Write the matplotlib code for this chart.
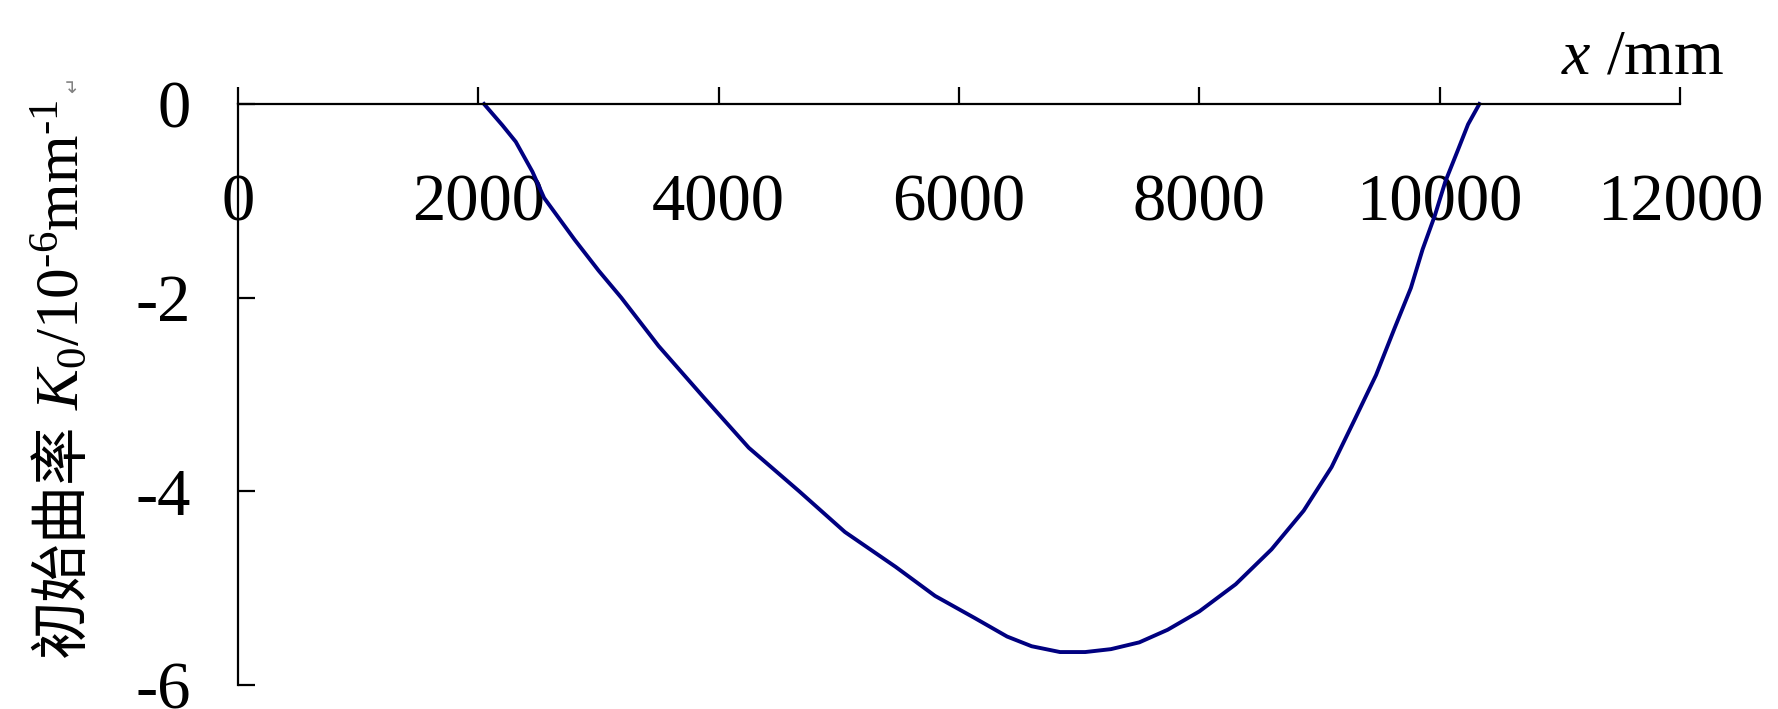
import matplotlib.pyplot as plt

# initial curvature
x_mm = [2047, 2200, 2311, 2450, 2547, 2800, 3000, 3189, 3500, 3868, 4250, 4670,
        5050, 5472, 5800, 6132, 6400, 6604, 6840, 7050, 7264, 7500, 7736, 8000,
        8302, 8600, 8868, 9100, 9292, 9470, 9623, 9760, 9858, 9960, 10047, 10150,
        10236, 10330]
k0 = [0.0, -0.22, -0.39, -0.70, -0.97, -1.40, -1.72, -2.00, -2.50, -3.02, -3.55, -4.00,
      -4.42, -4.78, -5.08, -5.31, -5.50, -5.60, -5.66, -5.66, -5.63, -5.56, -5.43, -5.24,
      -4.96, -4.60, -4.20, -3.75, -3.26, -2.80, -2.32, -1.90, -1.50, -1.15, -0.80, -0.48,
      -0.21, 0.0]

xticks = [0, 2000, 4000, 6000, 8000, 10000, 12000]
yticks = [0, -2, -4, -6]

plt.rcParams['font.family'] = ['Liberation Serif', 'Noto Sans CJK SC', 'DejaVu Sans']
plt.rcParams['mathtext.fontset'] = 'custom'
plt.rcParams['mathtext.rm'] = 'Liberation Serif'
plt.rcParams['mathtext.it'] = 'Liberation Serif:italic'

fig = plt.figure(figsize=(17.78, 7.09), dpi=100)
ax = fig.add_axes([0.1339, 0.0339, 0.8110, 0.8194])

ax.plot(x_mm, k0, color='#000080', lw=2.8, clip_on=False)

ax.set_xlim(0, 12000)
ax.set_ylim(-6, 0)
ax.set_xticks(xticks)
ax.set_yticks(yticks)
ax.set_xticklabels([str(v) for v in xticks])
ax.set_yticklabels([str(v) for v in yticks])

ax.spines['top'].set_visible(False)
ax.spines['right'].set_visible(False)
ax.spines['bottom'].set_position(('data', 0))
for s in ['left', 'bottom']:
    ax.spines[s].set_linewidth(1.6)

ax.tick_params(axis='x', direction='in', length=12, width=1.6, pad=50, labelsize=48)
ax.tick_params(axis='y', direction='in', length=12, width=1.6, pad=34, labelsize=48)

# y label in two pieces: chinese part, then the math part above it
W, H = 1778, 709
xl = 62 / W
t1 = fig.text(xl, 1 - 657 / H, '初始曲率', rotation=90, ha='center', va='bottom',
              family='Noto Sans CJK SC', fontsize=42)
fig.canvas.draw()
r = fig.canvas.get_renderer()
bb = t1.get_window_extent(r)
t2 = fig.text(xl, (bb.y1 + 14) / H, '$\\mathit{K}_0$/10$^{\u20106}$mm$^{\u20101}$', rotation=90,
              ha='center', va='bottom', fontsize=44)
bb2 = t2.get_window_extent(r)
fig.text(73 / W, (bb2.y1 + 6) / H, '↵', fontsize=14, color='gray', family='DejaVu Sans',
         rotation=90, ha='center', va='bottom')

ax.text(1.0305, 1.0775, '$x$ /mm', transform=ax.transAxes, fontsize=46,
        ha='right', va='center')

fig.savefig('out.png', dpi=100)
